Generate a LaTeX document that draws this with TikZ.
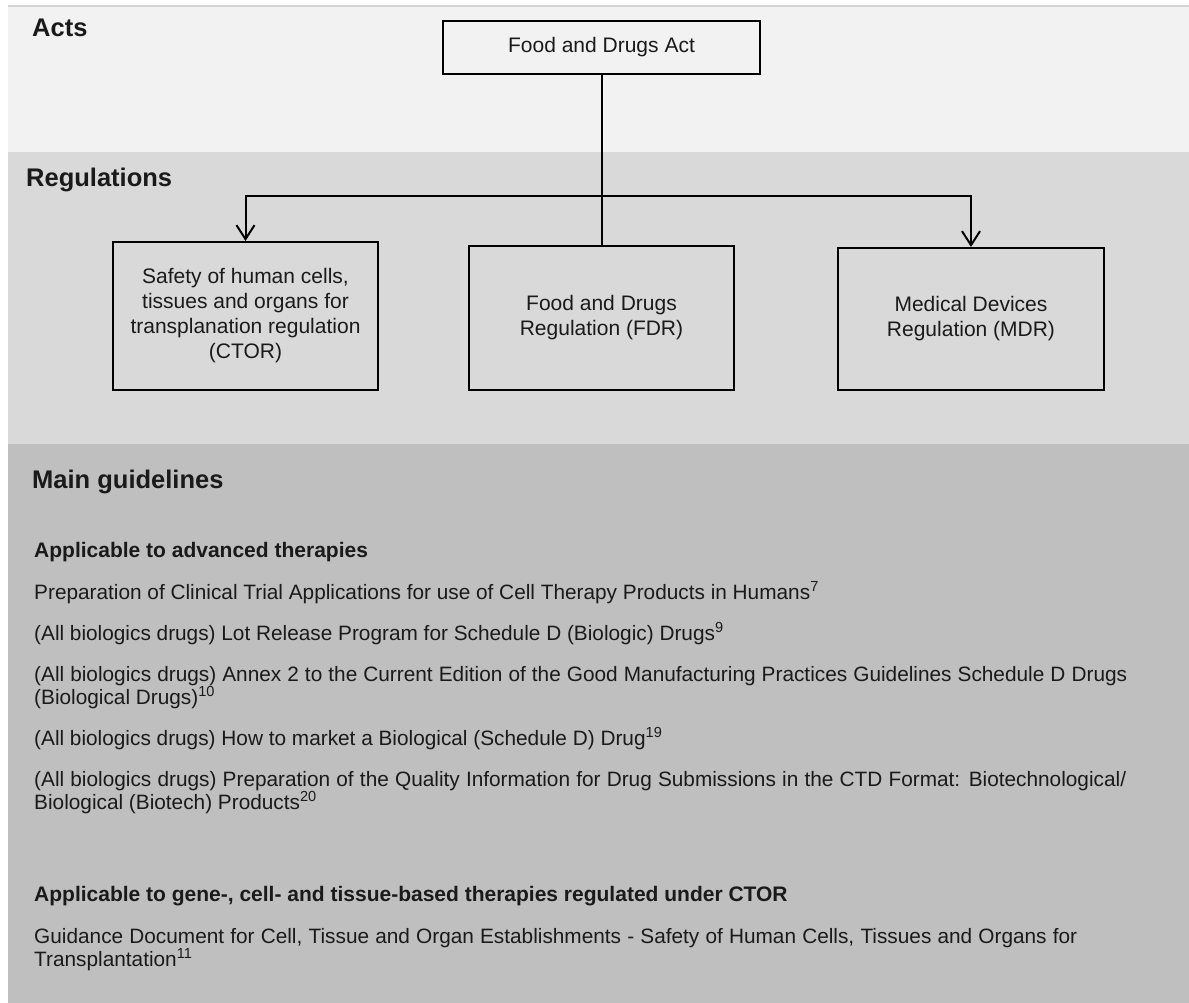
\documentclass[tikz,border=0pt]{standalone}
\usepackage{fontspec}
\setmainfont{Liberation Sans}
\usetikzlibrary{arrows.meta}
\definecolor{actsbg}{HTML}{F2F2F2}
\definecolor{regsbg}{HTML}{D9D9D9}
\definecolor{guidebg}{HTML}{BFBFBF}
\definecolor{topline}{HTML}{D4D4D4}
\definecolor{ink}{HTML}{1A1A1A}
\begin{document}
\begin{tikzpicture}[x=1pt,y=-1pt,
  head/.style={anchor=base west,inner sep=0,text=ink,font=\fontsize{25.5}{30}\selectfont\bfseries},
  subhead/.style={anchor=base west,inner sep=0,text=ink,font=\fontsize{21}{25}\selectfont\bfseries},
  body/.style={anchor=base west,inner sep=0,text=ink,font=\fontsize{20.8}{23}\selectfont},
  regbox/.style={draw,line width=2pt,align=center,inner sep=0,text=ink,font=\fontsize{21}{25}\selectfont},
  conn/.style={line width=2pt},
  arr/.style={conn,-{Straight Barb[length=14pt,width=18pt]}}
]
\useasboundingbox (0,0) rectangle (1189,1003);
\fill[white] (0,0) rectangle (1189,1003);
% bands
\fill[actsbg] (8,6) rectangle (1189,152);
\draw[topline,line width=1.5pt] (8,6) -- (1189,6);
\fill[regsbg] (8,152) rectangle (1189,444);
\fill[guidebg] (8,444) rectangle (1189,1003);
% headings
\node[head] (hacts) at (32,37) {Acts};
\node[head] (hregs) at (26,187) {Regulations};
\node[head] (hmain) at (32,488) {Main guidelines};
% boxes
\node[regbox,minimum width=317pt,minimum height=53pt] (act) at (601.5,47.5) {Food and Drugs Act};
\node[regbox,minimum width=265pt,minimum height=148pt] (ctor) at (245.5,316) {Safety of human cells,\\tissues and organs for\\transplanation regulation\\(CTOR)};
\node[regbox,minimum width=265pt,minimum height=144pt] (fdr) at (601.5,318) {Food and Drugs\\Regulation (FDR)};
\node[regbox,minimum width=266pt,minimum height=142pt] (mdr) at (971,319) {Medical Devices\\Regulation (MDR)};
% connectors
\coordinate (junc) at (601.5,196);
\draw[conn] (act.south) -- (fdr.north);
\draw[arr] (junc) -| (ctor.north);
\draw[arr] (junc) -| (mdr.north);
% guidelines
\node[subhead] (hadv) at (34,557) {Applicable to advanced therapies};
\node[body] (g1) at (34,599) {Preparation of Clinical Trial Applications for use of Cell Therapy Products in Humans\textsuperscript{7}};
\node[body] (g2) at (34,640) {(All biologics drugs) Lot Release Program for Schedule D (Biologic) Drugs\textsuperscript{9}};
\node[body] (g3a) at (34,681) {\makebox[1093pt][s]{(All biologics drugs) Annex 2 to the Current Edition of the Good Manufacturing Practices Guidelines Schedule D Drugs}};
\node[body] (g3b) at (34,704) {(Biological Drugs)\textsuperscript{10}};
\node[body] (g4) at (34,745) {(All biologics drugs) How to market a Biological (Schedule D) Drug\textsuperscript{19}};
\node[body] (g5a) at (34,786) {\makebox[1092pt][s]{(All biologics drugs) Preparation of the Quality Information for Drug Submissions in the CTD Format: Biotechnological/}};
\node[body] (g5b) at (34,809) {Biological (Biotech) Products\textsuperscript{20}};
\node[subhead] (hctor) at (34,901) {Applicable to gene-, cell- and tissue-based therapies regulated under CTOR};
\node[body] (g6a) at (34,943) {\makebox[1043pt][s]{Guidance Document for Cell, Tissue and Organ Establishments - Safety of Human Cells, Tissues and Organs for}};
\node[body] (g6b) at (34,966) {Transplantation\textsuperscript{11}};
\end{tikzpicture}
\end{document}
